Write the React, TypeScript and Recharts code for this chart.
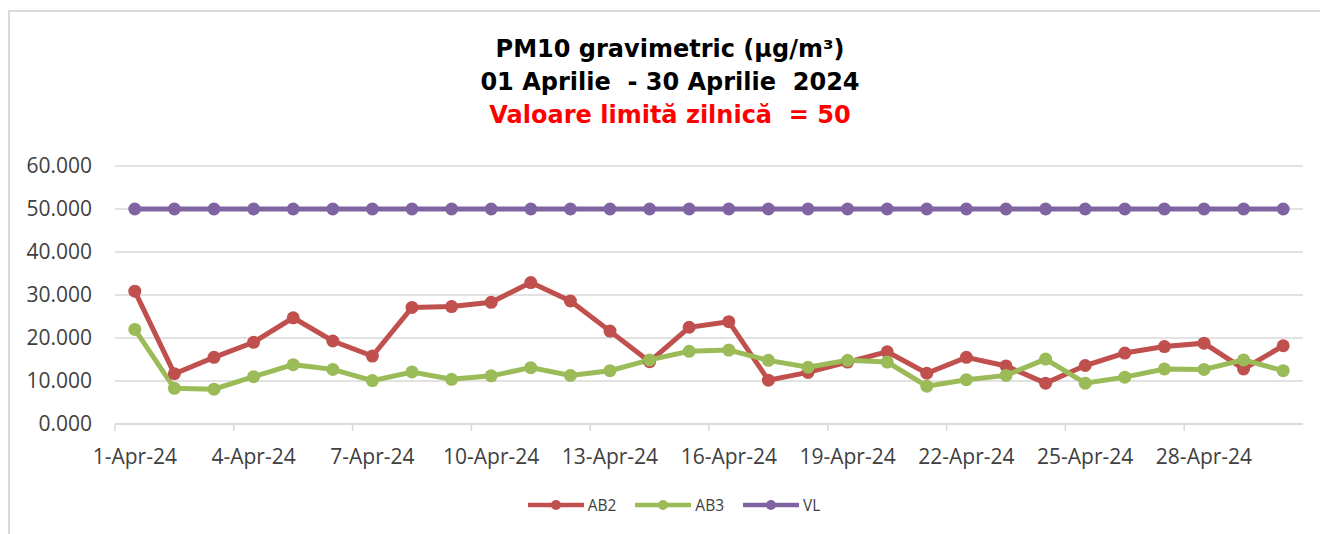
import React from 'react';
import { LineChart, Line, XAxis, YAxis, CartesianGrid, Legend } from 'recharts';

const dates = [
  '1-Apr-24', '2-Apr-24', '3-Apr-24', '4-Apr-24', '5-Apr-24', '6-Apr-24', '7-Apr-24', '8-Apr-24', '9-Apr-24', '10-Apr-24',
  '11-Apr-24', '12-Apr-24', '13-Apr-24', '14-Apr-24', '15-Apr-24', '16-Apr-24', '17-Apr-24', '18-Apr-24', '19-Apr-24', '20-Apr-24',
  '21-Apr-24', '22-Apr-24', '23-Apr-24', '24-Apr-24', '25-Apr-24', '26-Apr-24', '27-Apr-24', '28-Apr-24', '29-Apr-24', '30-Apr-24',
];

const ab2 = [
  30.9, 11.7, 15.5, 19.0, 24.7, 19.3, 15.8, 27.1, 27.3, 28.3,
  32.9, 28.6, 21.6, 14.5, 22.5, 23.8, 10.2, 12.0, 14.4, 16.8,
  11.8, 15.5, 13.5, 9.5, 13.6, 16.5, 18.0, 18.8, 12.8, 18.2,
];

const ab3 = [
  22.0, 8.3, 8.1, 11.0, 13.8, 12.7, 10.1, 12.1, 10.4, 11.2,
  13.1, 11.3, 12.4, 14.9, 16.9, 17.2, 14.8, 13.2, 14.8, 14.4,
  8.8, 10.3, 11.3, 15.1, 9.5, 10.9, 12.8, 12.7, 14.9, 12.4,
];

const vl = [
  50, 50, 50, 50, 50, 50, 50, 50, 50, 50,
  50, 50, 50, 50, 50, 50, 50, 50, 50, 50,
  50, 50, 50, 50, 50, 50, 50, 50, 50, 50,
];

const yTicks = [0, 10, 20, 30, 40, 50, 60];

const titleLines = ['PM10 gravimetric (µg/m³)', '01 Aprilie  - 30 Aprilie  2024', 'Valoare limită zilnică  = 50'];

const seriesInfo = [
  { key: 'AB2', color: '#C0504D' },
  { key: 'AB3', color: '#9BBB59' },
  { key: 'VL', color: '#8064A2' },
];

const data = dates.map((d, i) => ({ date: d, AB2: ab2[i], AB3: ab3[i], VL: vl[i] }));

const FONT = '"Open Sans", sans-serif';
const GRID = '#D9D9D9';

const XTick = (props: any) => {
  const { x, y, payload, index } = props;
  const half = payload && typeof payload.offset === 'number' && payload.offset > 0 ? payload.offset : 19.8;
  const axisY = y - 25;
  return (
    <g>
      <line x1={x - half} x2={x - half} y1={axisY} y2={axisY + 7} stroke={GRID} strokeWidth={1.5} />
      {index === 27 ? (
        <line x1={x + 5 * half} x2={x + 5 * half} y1={axisY} y2={axisY + 7} stroke={GRID} strokeWidth={1.5} />
      ) : null}
      <text x={x} y={y} dy="0.71em" textAnchor="middle" fill="#404040" fontSize={21} fontFamily={FONT}>
        {payload.value}
      </text>
    </g>
  );
};

const LegendContent = () => (
  <div style={{ display: 'flex', justifyContent: 'center', alignItems: 'center', fontFamily: FONT, fontSize: 15.5, color: '#404040', height: 22 }}>
    {seriesInfo.map((s, i) => (
      <div key={s.key} style={{ display: 'flex', alignItems: 'center', marginRight: i < seriesInfo.length - 1 ? 19 : 0 }}>
        <svg width={56} height={14} style={{ display: 'block' }}>
          <line x1={1} x2={55} y1={7} y2={7} stroke={s.color} strokeWidth={4.5} strokeLinecap="round" />
          <circle cx={28} cy={7} r={5} fill={s.color} />
        </svg>
        <span style={{ marginLeft: 4, lineHeight: '22px' }}>{s.key}</span>
      </div>
    ))}
  </div>
);

export default function App() {
  return (
    <div style={{ position: 'absolute', left: 0, top: 0, width: 1320, height: 534, overflow: 'hidden', background: '#fff' }}>
      <div style={{ position: 'absolute', left: 10, top: 12, width: 1310, height: 522 }}>
        <LineChart
          width={1310}
          height={522}
          data={data}
          margin={{ top: 154, right: 17, left: 0, bottom: 70 }}
        >
          <CartesianGrid vertical={false} stroke={GRID} strokeWidth={1.5} />
          <XAxis
            dataKey="date"
            scale="band"
            interval={2}
            height={40}
            tickLine={false}
            tickSize={0}
            tickMargin={25}
            axisLine={{ stroke: GRID, strokeWidth: 1.5 }}
            tick={<XTick />}
          />
          <YAxis
            width={105}
            domain={[0, 60]}
            ticks={yTicks}
            axisLine={false}
            tickLine={false}
            tickSize={0}
            tickMargin={23}
            tickFormatter={(v: number) => v.toFixed(3)}
            tick={{ fill: '#404040', fontSize: 21, fontFamily: FONT }}
          />
          <Legend
            verticalAlign="middle"
            align="center"
            layout="horizontal"
            content={<LegendContent />}
            wrapperStyle={{ top: 482, left: 18, width: 1292 }}
          />
          {seriesInfo.map((s) => (
            <Line
              key={s.key}
              dataKey={s.key}
              stroke={s.color}
              strokeWidth={5}
              dot={{ r: 6.5, fill: s.color, stroke: s.color, strokeWidth: 0 }}
              activeDot={false}
              isAnimationActive={false}
            />
          ))}
        </LineChart>
      </div>
      <svg width={1320} height={534} style={{ position: 'absolute', left: 0, top: 0, pointerEvents: 'none' }}>
        <line x1={9} x2={1320} y1={11} y2={11} stroke={GRID} strokeWidth={2} />
        <line x1={9} x2={9} y1={10} y2={534} stroke={GRID} strokeWidth={2} />
        {titleLines.map((t, i) => (
          <text
            key={i}
            x={670}
            y={57.3 + i * 33}
            textAnchor="middle"
            fontFamily='"DejaVu Sans", sans-serif'
            fontWeight="bold"
            fontSize={24}
            fill={i === 2 ? '#FF0000' : '#000000'}
            style={{ whiteSpace: 'pre' }}
          >
            {t}
          </text>
        ))}
      </svg>
    </div>
  );
}
